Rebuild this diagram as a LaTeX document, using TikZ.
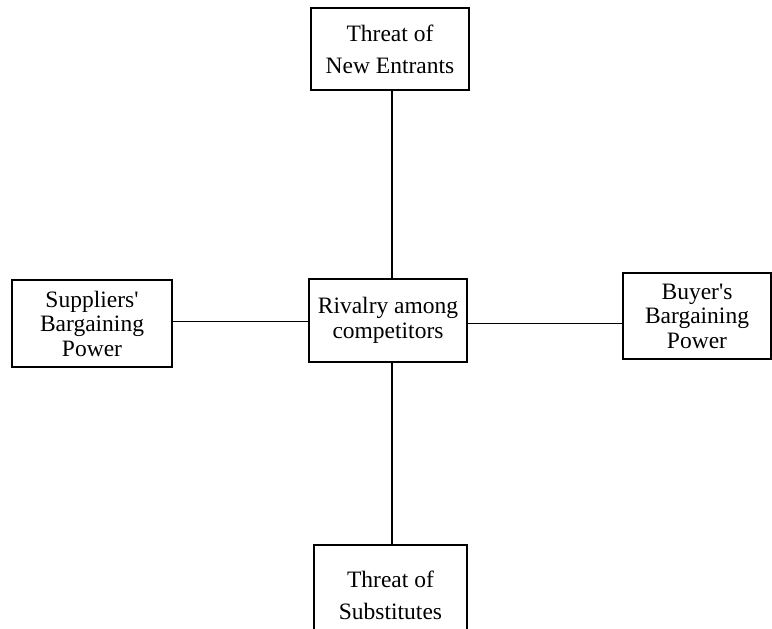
\documentclass[tikz,border=0pt]{standalone}
\usepackage{fontspec}
\setmainfont{Liberation Serif}
\usetikzlibrary{positioning}

\begin{document}
\begin{tikzpicture}[
  x=1pt,y=-1pt,
  every node/.style={font=\fontsize{23.5}{24.5}\selectfont,align=center},
  forcebox/.style={draw,line width=1.8pt,inner sep=0pt},
  wide/.style={font=\fontsize{23.5}{32}\selectfont},
  link/.style={line width=1.8pt}
]
\clip (0,0) rectangle (772,629);
\useasboundingbox (0,0) rectangle (772,629);
\node[forcebox,wide,minimum width=158pt,minimum height=82pt] (entrants) at (390,49) {Threat of\\New Entrants};
\node[forcebox,minimum width=158pt,minimum height=83pt] (rivalry) at (388,320.5) {Rivalry among\\competitors};
\node[forcebox,minimum width=160pt,minimum height=87pt] (suppliers) at (92,323.5) {Suppliers\textquotesingle\\Bargaining\\Power};
\node[forcebox,minimum width=148pt,minimum height=86pt] (buyers) at (697,316) {Buyer\textquotesingle s\\Bargaining\\Power};
\node[forcebox,wide,minimum width=153pt,minimum height=100pt] (substitutes) at (390.5,595) {Threat of\\Substitutes};
\draw[link] (entrants.south -| rivalry.north) ++(4,0) coordinate (e1) -- (e1 |- rivalry.north);
\draw[link] (rivalry.south) ++(4,0) coordinate (s1) -- (s1 |- substitutes.north);
\draw[link] (suppliers.east) ++(0,-2) coordinate (p1) -- (p1 -| rivalry.west);
\draw[link] (rivalry.east) ++(0,3) coordinate (b1) -- (b1 -| buyers.west);
\end{tikzpicture}
\end{document}
